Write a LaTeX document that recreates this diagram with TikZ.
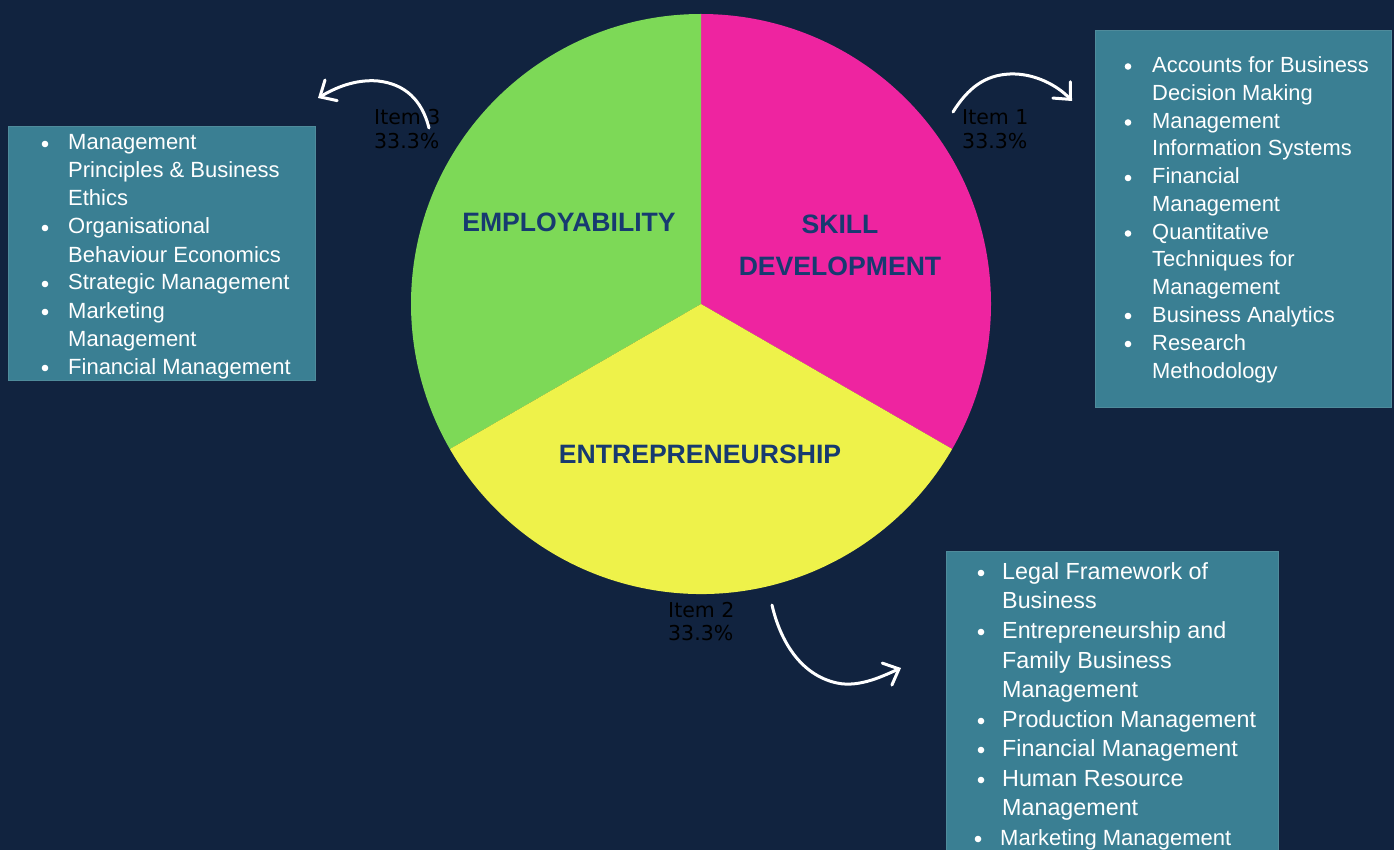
\documentclass[tikz,border=0pt]{standalone}
\usepackage{fontspec}
\setmainfont{Liberation Sans}
\newfontfamily\labelfont{DejaVu Sans}
\usetikzlibrary{arrows.meta}
\definecolor{bg}{HTML}{11233F}
\definecolor{boxfill}{HTML}{3A7F93}
\definecolor{boxline}{HTML}{4F8B9B}
\definecolor{pgreen}{HTML}{7DD957}
\definecolor{ppink}{HTML}{EE24A0}
\definecolor{pyellow}{HTML}{EEF24A}
\definecolor{navy}{HTML}{173A70}
\begin{document}
\begin{tikzpicture}[x=1pt,y=-1pt,
  listbox/.style={fill=boxfill,draw=boxline,line width=1pt},
  listtext/.style={anchor=base west,inner sep=0pt,text=white,font=\fontsize{22}{26}\selectfont},
  rightlist/.style={listtext,font=\fontsize{21.9}{26}\selectfont},
  biglist/.style={listtext,font=\fontsize{23.3}{27}\selectfont},
  sector/.style={anchor=base,inner sep=0pt,text=navy,font=\fontsize{26.6}{30}\selectfont\bfseries},
  itemlbl/.style={anchor=base west,inner sep=0pt,text=black,font=\labelfont\fontsize{20.5}{24}\selectfont},
  curvy/.style={draw=white,line width=3pt,line cap=round,line join=round,
    -{Straight Barb[length=13pt,width=24pt,line cap=round]}}]
\useasboundingbox (0,0) rectangle (1394,850);
\fill[bg] (0,0) rectangle (1394,850);

% pie chart
\coordinate (c) at (701,304);
\fill[ppink] (c) -- ++(-90:290) arc[start angle=-90,end angle=30,radius=290] -- cycle;
\fill[pgreen] (c) -- ++(-90:290) arc[start angle=-90,end angle=-210,radius=290] -- cycle;
\fill[pyellow] (c) -- ++(150:290) arc[start angle=150,end angle=30,radius=290] -- cycle;

\node[sector] (emp) at (569,232) {EMPLOYABILITY};
\node[sector] (skill) at (840,234) {SKILL};
\node[sector] (dev) at (840,276) {DEVELOPMENT};
\node[sector] (ent) at (700,463) {ENTREPRENEURSHIP};

% slice labels
\node[itemlbl] (i3a) at (374,125) {Item 3};
\node[itemlbl] (i3b) at (374,149) {33.3\%};
\node[itemlbl] (i1a) at (962,125) {Item 1};
\node[itemlbl] (i1b) at (962,149) {33.3\%};
\node[itemlbl] (i2a) at (668,617) {Item 2};
\node[itemlbl] (i2b) at (668,640) {33.3\%};

% list boxes
\fill[listbox] (8,127) rectangle (315,380);
\fill[listbox] (1095,31) rectangle (1391,407);
\fill[listbox] (946,551) rectangle (1278,860);

\foreach \y/\t/\b [count=\i] in {150/Management/1, 178/{Principles \& Business}/0, 206/Ethics/0,
  234/Organisational/1, 262/Behaviour Economics/0, 290/Strategic Management/1,
  318/Marketing/1, 346/Management/0, 374/Financial Management/1}{
  \node[listtext] (emp-\i) at (68,\y) {\t};
  \ifnum\b=1 \fill[white] (45,\y-6) circle (3.3); \fi
}

\foreach \y/\t/\b [count=\i] in {72.5/Accounts for Business/1, 100.5/Decision Making/0,
  128.5/Management/1, 156/Information Systems/0, 184/Financial/1, 211.5/Management/0,
  239.5/Quantitative/1, 267/Techniques for/0, 294.5/Management/0,
  322/Business Analytics/1, 350/Research/1, 378/Methodology/0}{
  \node[rightlist] (skl-\i) at (1152,\y) {\t};
  \ifnum\b=1 \fill[white] (1128,\y-6) circle (3.3); \fi
}

\foreach \y/\t/\b [count=\i] in {579/Legal Framework of/1, 608/Business/0,
  638/Entrepreneurship and/1, 668/Family Business/0, 697/Management/0,
  727/Production Management/1, 756/Financial Management/1,
  786/Human Resource/1, 815/Management/0}{
  \node[biglist] (ent-\i) at (1002,\y) {\t};
  \ifnum\b=1 \fill[white] (981,\y-6) circle (3.3); \fi
}
\node[listtext] (ent-10) at (1000,845) {Marketing Management};
\fill[white] (978,839) circle (3.3);

% curved arrows from the slice labels towards the lists
\coordinate (a3s) at (429,128);
\coordinate (a3e) at (318,98);
\draw[curvy] (a3s) .. controls (422,100) and (405,84) .. (378,81)
  .. controls (355,79) and (335,88) .. (a3e);

\coordinate (a1s) at (953,112);
\coordinate (a1e) at (1072,101);
\draw[curvy] (a1s) .. controls (968,88) and (985,75) .. (1010,74)
  .. controls (1035,73) and (1058,86) .. (a1e);

\coordinate (a2s) at (772,605);
\coordinate (a2e) at (901,668);
\draw[curvy] (a2s) .. controls (780,640) and (800,675) .. (837,683)
  .. controls (860,688) and (885,675) .. (a2e);
\end{tikzpicture}
\end{document}
